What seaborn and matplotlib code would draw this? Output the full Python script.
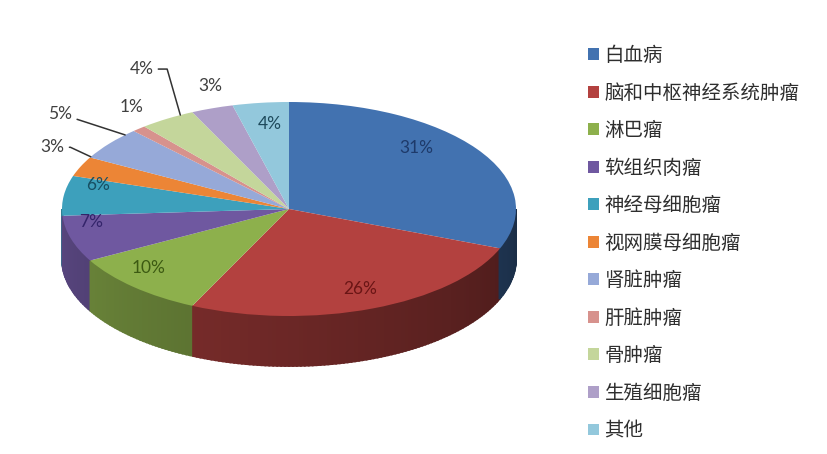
import numpy as np
import matplotlib
matplotlib.use("Agg")
import matplotlib.pyplot as plt
import matplotlib.colors as mcolors
import seaborn as sns

# data
labels = ["白血病", "脑和中枢神经系统肿瘤", "淋巴瘤", "软组织肉瘤", "神经母细胞瘤",
          "视网膜母细胞瘤", "肾脏肿瘤", "肝脏肿瘤", "骨肿瘤", "生殖细胞瘤", "其他"]
shares = [31, 26, 10, 7, 6, 3, 5, 1, 4, 3, 4]

colors = ["#4272B0", "#B3413F", "#8DB04C", "#6F58A0", "#3DA0BC", "#EC8536",
          "#96A9D8", "#D7928D", "#C4D69B", "#AE9FC8", "#93C8DC"]
text_colors = ["#1E3A6A", "#6A1515", "#3C5A12", "#33246A", "#174F63", "#404040",
               "#404040", "#404040", "#404040", "#404040", "#1E4A5C"]

# label placement (radius, angle shift from slice middle)
label_r = [0.80, 0.81, 0.83, 0.88, 0.87, 1.19, 1.34, 1.18, 1.46, 1.20, 0.80]
label_shift = [11.4, 1.1, -5.0, -8.3, -7.7, -5.6, -3.5, -5.3, -6.0, -3.0, -1.2]
# leader lines: slice index -> (anchor angle shift, final segment angle)
leaders = {5: (-5.8, -25), 6: (-6.0, -18), 8: (-3.8, -74)}

## layout in pixels
W, H = 828, 454
cx, cy = 289, 209
a, b = 227, 107
depth = 50 / b

sns.set_theme(style="white")
plt.rcParams["font.family"] = ["Noto Sans CJK SC", "DejaVu Sans"]

fig = plt.figure(figsize=(W / 100, H / 100), dpi=100)
ax = fig.add_axes([0, 0, 1, 1])

wedges, _ = ax.pie(shares, colors=colors, startangle=90, counterclock=False,
                   radius=1, wedgeprops={"linewidth": 0})
for w in wedges:
    w.set_zorder(3)

## 3D side of the front half
cum = np.cumsum(shares) / np.sum(shares)
step = 1.0
for t0 in np.arange(180, 360, step):
    t1 = t0 + step
    frac = ((90 - (t0 + step / 2)) % 360) / 360
    i = int(np.searchsorted(cum, frac, side="right"))
    shade = 0.80 - 0.40 * (t0 - 180) / 180
    rgb = np.array(mcolors.to_rgb(colors[i])) * shade
    ts = np.deg2rad([t0, t1])
    xs = [np.cos(ts[0]), np.cos(ts[1]), np.cos(ts[1]), np.cos(ts[0])]
    ys = [np.sin(ts[0]), np.sin(ts[1]), np.sin(ts[1]) - depth, np.sin(ts[0]) - depth]
    ax.fill(xs, ys, facecolor=rgb, edgecolor=rgb, lw=1.3, zorder=2)

## percentage labels
mids = 90 - 360 * (cum - np.array(shares) / np.sum(shares) / 2)
for i, v in enumerate(shares):
    ang = np.deg2rad(mids[i] + label_shift[i])
    pos = (label_r[i] * np.cos(ang), label_r[i] * np.sin(ang))
    if i in leaders:
        sh, angB = leaders[i]
        an = np.deg2rad(mids[i] + sh)
        ax.annotate(f"{v}%", xy=(np.cos(an), np.sin(an)), xytext=pos,
                    ha="center", va="center", fontsize=12.5, family="Lato",
                    color=text_colors[i], zorder=5,
                    arrowprops=dict(arrowstyle="-", color="#333333", lw=1.1,
                                    relpos=(1, 0.5), shrinkA=1, shrinkB=0,
                                    connectionstyle=f"angle,angleA=0,angleB={angB},rad=0"))
    else:
        ax.text(pos[0], pos[1], f"{v}%", ha="center", va="center", fontsize=12.5,
                family="Lato", color=text_colors[i], zorder=5)

ax.set_aspect("auto")
ax.set_xlim(-cx / a, (W - cx) / a)
ax.set_ylim(-(H - cy) / b, cy / b)
ax.axis("off")

leg = ax.legend(wedges, labels, loc="upper left", frameon=False,
                bbox_to_anchor=(588 / W, 1 - 45 / H), bbox_transform=fig.transFigure,
                fontsize=14, handlelength=0.55, handleheight=0.55, handletextpad=0.3,
                labelspacing=0.85, borderpad=0, borderaxespad=0)
for t in leg.get_texts():
    t.set_color("#2E2E2E")

fig.savefig("out.png", dpi=100, facecolor="white")
